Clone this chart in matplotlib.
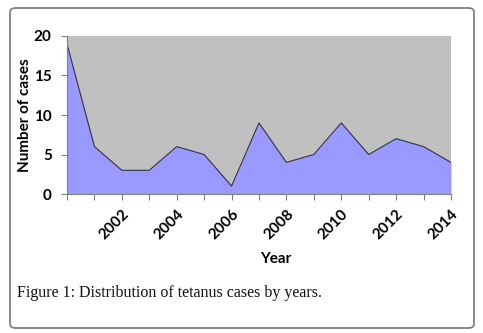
import matplotlib
matplotlib.use('Agg')
import matplotlib.pyplot as plt
from matplotlib.patches import FancyBboxPatch

years = list(range(2000, 2015))
cases = [19, 6, 3, 3, 6, 5, 1, 9, 4, 5, 9, 5, 7, 6, 4]
label_years = [2002, 2004, 2006, 2008, 2010, 2012, 2014]
y_ticks = [0, 5, 10, 15, 20]

font = ['Lato', 'DejaVu Sans']

fig = plt.figure(figsize=(4.83, 3.33), dpi=100)
ax = fig.add_axes([0.1387, 0.4174, 0.795, 0.4745])

ax.set_facecolor('#c0c0c0')
ax.fill_between(years, cases, 0, color='#9999ff', linewidth=0)
ax.plot(years, cases, color='#333333', linewidth=0.8)

ax.set_xlim(years[0], years[-1])
ax.set_ylim(0, 20)

ax.set_xticks(years)
ax.set_xticklabels([str(y) if y in label_years else '' for y in years],
                   rotation=45, ha='right', rotation_mode='anchor',
                   fontsize=11, fontweight='bold', family=font)
ax.set_yticks(y_ticks)
ax.set_yticklabels([str(v) for v in y_ticks], fontsize=11,
                   fontweight='bold', family=font)
ax.tick_params(axis='x', length=4.5, color='#808080', pad=5, direction='out')
ax.tick_params(axis='y', length=4.5, color='#808080', pad=6.5, direction='out')

for side in ['top', 'right']:
    ax.spines[side].set_visible(False)
for side in ['left', 'bottom']:
    ax.spines[side].set_color('#808080')
    ax.spines[side].set_linewidth(0.8)

ax.set_xlabel('Year', fontsize=11, fontweight='bold', family=font)
ax.xaxis.set_label_coords(0.545, -0.37)
ax.set_ylabel('Number of cases', fontsize=11, fontweight='bold', family=font)
ax.yaxis.set_label_coords(-0.092, 0.5)

fig.text(17 / 483, 1 - 297 / 333, 'Figure 1: Distribution of tetanus cases by years.',
         fontsize=11.5, family=['Liberation Serif', 'DejaVu Serif'],
         ha='left', va='baseline', color='#111111')

box = FancyBboxPatch((10 / 483, 5 / 333), 464 / 483, 320 / 333,
                     boxstyle='round,pad=0,rounding_size=0.012',
                     transform=fig.transFigure, fill=False,
                     edgecolor='#808080', linewidth=1.3)
fig.patches.append(box)

fig.savefig('out.png', dpi=100)
